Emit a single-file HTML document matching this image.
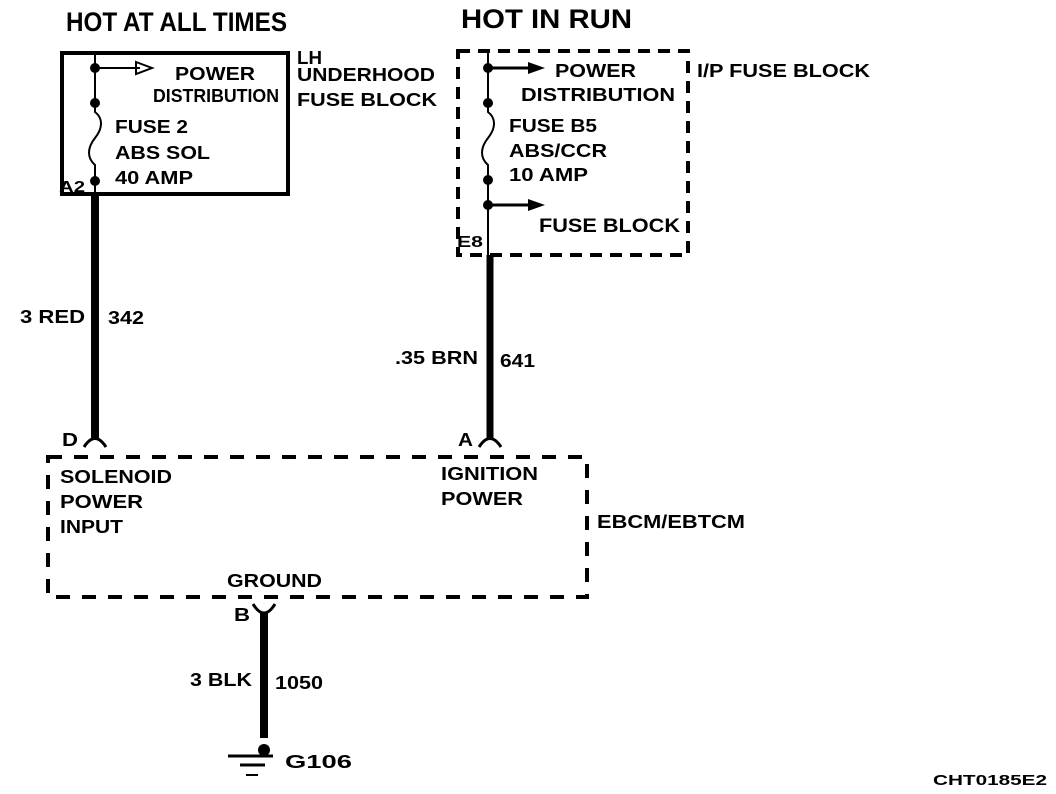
<!DOCTYPE html>
<html><head><meta charset="utf-8"><style>
html,body{margin:0;padding:0;background:#fff;}
svg{display:block;}
text{font-family:"Liberation Sans",sans-serif;font-weight:bold;fill:#000;}
</style></head><body>
<svg width="1056" height="794" viewBox="0 0 1056 794" xmlns="http://www.w3.org/2000/svg">
<g lengthAdjust="spacingAndGlyphs">
<text x="66" y="31" font-size="27" textLength="221" lengthAdjust="spacingAndGlyphs">HOT AT ALL TIMES</text>
<text x="461" y="28" font-size="27" textLength="171" lengthAdjust="spacingAndGlyphs">HOT IN RUN</text>

<!-- LH box -->
<rect x="62" y="53" width="226" height="141" fill="none" stroke="#000" stroke-width="4"/>
<line x1="95" y1="53" x2="95" y2="103" stroke="#000" stroke-width="2"/>
<line x1="95" y1="68" x2="140" y2="68" stroke="#000" stroke-width="2"/>
<path d="M136,62 L152,68 L136,74 Z" fill="none" stroke="#000" stroke-width="2"/>
<path d="M95,103 L95,112 C103,118 103,128 95,138 C87,148 87,158 95,165 L95,194" fill="none" stroke="#000" stroke-width="2"/>
<circle cx="95" cy="68" r="5"/><circle cx="95" cy="103" r="5"/><circle cx="95" cy="181" r="5"/>
<text x="175" y="80" font-size="18" textLength="80" lengthAdjust="spacingAndGlyphs">POWER</text>
<text x="153" y="102" font-size="18" textLength="126" lengthAdjust="spacingAndGlyphs">DISTRIBUTION</text>
<text x="115" y="133" font-size="18" textLength="73" lengthAdjust="spacingAndGlyphs">FUSE 2</text>
<text x="115" y="159" font-size="18" textLength="95" lengthAdjust="spacingAndGlyphs">ABS SOL</text>
<text x="115" y="184" font-size="18" textLength="78" lengthAdjust="spacingAndGlyphs">40 AMP</text>
<text x="59" y="192" font-size="16" textLength="26" lengthAdjust="spacingAndGlyphs">A2</text>
<text x="297" y="64" font-size="18" textLength="25" lengthAdjust="spacingAndGlyphs">LH</text>
<text x="297" y="81" font-size="18" textLength="138" lengthAdjust="spacingAndGlyphs">UNDERHOOD</text>
<text x="297" y="106" font-size="18" textLength="140" lengthAdjust="spacingAndGlyphs">FUSE BLOCK</text>

<!-- wire 342 -->
<line x1="95" y1="194" x2="95" y2="440" stroke="#000" stroke-width="8"/>
<text x="20" y="323" font-size="18" textLength="65" lengthAdjust="spacingAndGlyphs">3 RED</text>
<text x="108" y="324" font-size="18" textLength="36" lengthAdjust="spacingAndGlyphs">342</text>
<path d="M84,447 Q95,430 106,447" fill="none" stroke="#000" stroke-width="3"/>
<text x="62" y="446" font-size="18" textLength="16" lengthAdjust="spacingAndGlyphs">D</text>

<!-- I/P box -->
<rect x="458" y="51" width="230" height="204" fill="none" stroke="#000" stroke-width="4" stroke-dasharray="12,8"/>
<line x1="488" y1="51" x2="488" y2="103" stroke="#000" stroke-width="2"/>
<line x1="488" y1="68" x2="532" y2="68" stroke="#000" stroke-width="3"/>
<path d="M528,62 L545,68 L528,74 Z"/>
<path d="M488,103 L488,112 C496,118 496,128 488,138 C480,148 480,158 488,165 L488,256" fill="none" stroke="#000" stroke-width="2"/>
<line x1="488" y1="205" x2="532" y2="205" stroke="#000" stroke-width="3"/>
<path d="M528,199 L545,205 L528,211 Z"/>
<circle cx="488" cy="68" r="5"/><circle cx="488" cy="103" r="5"/><circle cx="488" cy="180" r="5"/><circle cx="488" cy="205" r="5"/>
<text x="555" y="77" font-size="18" textLength="81" lengthAdjust="spacingAndGlyphs">POWER</text>
<text x="521" y="101" font-size="18" textLength="154" lengthAdjust="spacingAndGlyphs">DISTRIBUTION</text>
<text x="509" y="132" font-size="18" textLength="88" lengthAdjust="spacingAndGlyphs">FUSE B5</text>
<text x="509" y="157" font-size="18" textLength="98" lengthAdjust="spacingAndGlyphs">ABS/CCR</text>
<text x="509" y="181" font-size="18" textLength="79" lengthAdjust="spacingAndGlyphs">10 AMP</text>
<text x="539" y="232" font-size="19" textLength="141" lengthAdjust="spacingAndGlyphs">FUSE BLOCK</text>
<text x="457" y="247" font-size="16" textLength="26" lengthAdjust="spacingAndGlyphs">E8</text>
<text x="697" y="77" font-size="18" textLength="173" lengthAdjust="spacingAndGlyphs">I/P FUSE BLOCK</text>

<!-- wire 641 -->
<line x1="490" y1="255" x2="490" y2="440" stroke="#000" stroke-width="7"/>
<text x="395" y="364" font-size="18" textLength="83" lengthAdjust="spacingAndGlyphs">.35 BRN</text>
<text x="500" y="367" font-size="18" textLength="35" lengthAdjust="spacingAndGlyphs">641</text>
<path d="M479,447 Q490,430 501,447" fill="none" stroke="#000" stroke-width="3"/>
<text x="458" y="446" font-size="18" textLength="15" lengthAdjust="spacingAndGlyphs">A</text>

<!-- EBCM box -->
<rect x="48" y="457" width="539" height="140" fill="none" stroke="#000" stroke-width="4" stroke-dasharray="14,12"/>
<text x="60" y="483" font-size="18" textLength="112" lengthAdjust="spacingAndGlyphs">SOLENOID</text>
<text x="60" y="508" font-size="18" textLength="83" lengthAdjust="spacingAndGlyphs">POWER</text>
<text x="60" y="533" font-size="18" textLength="63" lengthAdjust="spacingAndGlyphs">INPUT</text>
<text x="441" y="480" font-size="18" textLength="97" lengthAdjust="spacingAndGlyphs">IGNITION</text>
<text x="441" y="505" font-size="18" textLength="82" lengthAdjust="spacingAndGlyphs">POWER</text>
<text x="227" y="587" font-size="18" textLength="95" lengthAdjust="spacingAndGlyphs">GROUND</text>
<text x="597" y="528" font-size="18" textLength="148" lengthAdjust="spacingAndGlyphs">EBCM/EBTCM</text>

<!-- ground wire -->
<path d="M253,604 Q264,622 275,604" fill="none" stroke="#000" stroke-width="3"/>
<text x="234" y="621" font-size="18" textLength="16" lengthAdjust="spacingAndGlyphs">B</text>
<line x1="264" y1="612" x2="264" y2="738" stroke="#000" stroke-width="8"/>
<text x="190" y="686" font-size="18" textLength="62" lengthAdjust="spacingAndGlyphs">3 BLK</text>
<text x="275" y="689" font-size="18" textLength="48" lengthAdjust="spacingAndGlyphs">1050</text>
<circle cx="264" cy="750" r="6"/>
<line x1="228" y1="756" x2="273" y2="756" stroke="#000" stroke-width="3"/>
<line x1="240" y1="765" x2="265" y2="765" stroke="#000" stroke-width="3"/>
<line x1="246" y1="775" x2="258" y2="775" stroke="#000" stroke-width="2"/>
<text x="285" y="768" font-size="18" textLength="67" lengthAdjust="spacingAndGlyphs">G106</text>
<text x="933" y="785" font-size="15" textLength="114" lengthAdjust="spacingAndGlyphs">CHT0185E2</text>
</g>
</svg>
</body></html>
